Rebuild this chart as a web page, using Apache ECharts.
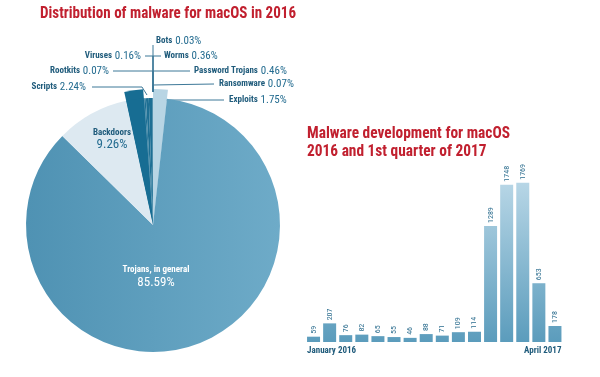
<!DOCTYPE html>
<html>
<head>
<meta charset="utf-8">
<script src="https://cdn.jsdelivr.net/npm/echarts@6/dist/echarts.min.js"></script>
<style>
  html, body { margin: 0; padding: 0; background: #fff; }
  #chart { width: 600px; height: 377px; }
</style>
</head>
<body>
<div id="chart"></div>
<script>
// pie: share of malware types, 2016 (clockwise from 12 o'clock)
const pieNames = ['Exploits', 'Trojans, in general', 'Backdoors', 'Scripts', 'Rootkits', 'Viruses', 'Bots', 'Worms', 'Password Trojans', 'Ransomware']
const pieValues = [1.75, 85.59, 9.26, 2.24, 0.07, 0.16, 0.03, 0.36, 0.46, 0.07]
const pieColors = ['#b8d5e4', '#5d9ebf', '#dde9f1', '#176d93', '#1d6f94', '#1d6f94', '#1d6f94', '#1d6f94', '#1d6f94', '#1d6f94']

// bars: new samples per month, Jan 2016 .. Apr 2017
const months = ['January 2016', 'February 2016', 'March 2016', 'April 2016', 'May 2016', 'June 2016',
  'July 2016', 'August 2016', 'September 2016', 'October 2016', 'November 2016', 'December 2016',
  'January 2017', 'February 2017', 'March 2017', 'April 2017']
const samples = [59, 207, 76, 82, 65, 55, 46, 88, 71, 109, 114, 1289, 1748, 1769, 653, 178]

const title1 = 'Distribution of malware for macOS in 2016'
const title2 = ['Malware development for macOS', '2016 and 1st quarter of 2017']

const FONT = "'Roboto Condensed', 'Noto Sans Condensed', 'Liberation Sans Narrow', 'DejaVu Sans Condensed', 'Roboto', sans-serif"
const RED = '#c1202f'
const NAVY = '#1f5b7b'

// squeeze a heading to the width it has in the print version
function squeeze(text, size, target) {
  const ctx = document.createElement('canvas').getContext('2d')
  ctx.font = 'bold ' + size + 'px ' + FONT
  return Math.min(1, target / ctx.measureText(text).width)
}

// where each pie label sits, and its leader line
const labelSpots = [
  { x: 229, y: 100, align: 'left', line: [[159, 109], [159, 100], [224, 100]] },
  { x: 156, y: 277, align: 'center' },
  { x: 112, y: 140, align: 'center' },
  { x: 86, y: 87, align: 'right', line: [[147, 95], [142, 87], [92, 87]] },
  { x: 109, y: 71, align: 'right', line: [[153, 92], [153, 71], [113, 71]] },
  { x: 141, y: 56, align: 'right', line: [[153, 92], [153, 56], [145, 56]] },
  { x: 156, y: 41, align: 'left', line: [[153, 92], [153, 45]] },
  { x: 164, y: 56, align: 'left', line: [[153, 92], [153, 56], [161, 56]] },
  { x: 194, y: 71, align: 'left', line: [[153, 92], [153, 71], [190, 71]] },
  { x: 219, y: 84, align: 'left', line: [[153, 92], [153, 85], [214, 84]] }
]

const chart = echarts.init(document.getElementById('chart'))

const pieData = pieNames.map((name, i) => {
  const item = { name: name, value: pieValues[i], itemStyle: { color: pieColors[i] } }
  if (i === 1) {
    item.itemStyle.color = new echarts.graphic.LinearGradient(0, 0, 1, 0, [
      { offset: 0, color: '#4f92b3' },
      { offset: 1, color: '#6eabc8' }
    ])
    item.label = { formatter: '{w|{b}}\n{big|{c}%}' }
    item.labelLine = { show: false }
  } else if (i === 2) {
    item.label = { formatter: '{n|{b}}\n{bigN|{c}%}' }
    item.labelLine = { show: false }
  }
  return item
})

// outer rim for the two slices that stick out
const rimData = pieNames.map((name, i) => ({
  name: name,
  value: pieValues[i],
  itemStyle: { color: (i === 0 || i === 3) ? pieColors[i] : 'rgba(0,0,0,0)' }
}))

const t1Scale = squeeze(title1, 16, 256)
const t2Scale = squeeze(title2[0], 16, 203)

chart.setOption({
  backgroundColor: '#fff',
  animation: false,
  textStyle: { fontFamily: FONT },
  graphic: [
    {
      type: 'text',
      x: 40,
      y: 14,
      scaleX: t1Scale,
      style: { text: title1, fill: RED, font: 'bold 16px ' + FONT, verticalAlign: 'middle' }
    },
    {
      type: 'text',
      x: 307,
      y: 143,
      scaleX: t2Scale,
      style: { text: title2.join('\n'), fill: RED, font: 'bold 16px ' + FONT, lineHeight: 18, verticalAlign: 'middle' }
    }
  ],
  grid: { left: 305.5, right: 37, top: 162, bottom: 35 },
  xAxis: {
    type: 'category',
    data: months,
    axisLine: { show: false },
    axisTick: { show: false },
    axisLabel: {
      interval: 0,
      margin: 4,
      color: NAVY,
      fontWeight: 'bold',
      fontSize: 9,
      fontFamily: FONT,
      alignMinLabel: 'left',
      alignMaxLabel: 'right',
      formatter: (v, i) => i === 0 ? '{first|' + v + '}' : (i === months.length - 1 ? '{last|' + v + '}' : ''),
      rich: {
        first: { padding: [0, 0, 0, -6.5], color: NAVY, fontWeight: 'bold', fontSize: 9, fontFamily: FONT },
        last: { padding: [0, -6.5, 0, 0], color: NAVY, fontWeight: 'bold', fontSize: 9, fontFamily: FONT }
      }
    }
  },
  yAxis: { type: 'value', min: 0, max: 2000, show: false },
  series: [
    {
      type: 'pie',
      silent: true,
      z: 1,
      center: [153, 225],
      radius: [0, 136],
      startAngle: 90,
      label: { show: false },
      labelLine: { show: false },
      data: rimData
    },
    {
      type: 'pie',
      z: 2,
      center: [153, 225],
      radius: [0, 127],
      startAngle: 90,
      avoidLabelOverlap: false,
      itemStyle: { borderWidth: 0 },
      label: {
        show: true,
        position: 'outside',
        formatter: '{n|{b}} {v|{c}%}',
        rich: {
          n: { fontFamily: FONT, fontWeight: 'bold', fontSize: 9, color: NAVY },
          v: { fontFamily: FONT, fontSize: 11, color: '#246c90' },
          w: { fontFamily: FONT, fontWeight: 'bold', fontSize: 9, color: '#fff', lineHeight: 12 },
          big: { fontFamily: FONT, fontSize: 13, color: '#fff', lineHeight: 15 },
          bigN: { fontFamily: FONT, fontSize: 13, color: '#246c90', lineHeight: 15 }
        }
      },
      labelLine: { show: true, lineStyle: { color: '#3d7898', width: 1 } },
      labelLayout: function (params) {
        const s = labelSpots[params.dataIndex]
        const out = { x: s.x, y: s.y, align: s.align, verticalAlign: 'middle' }
        if (s.line) out.labelLinePoints = s.line
        return out
      },
      data: pieData
    },
    {
      type: 'bar',
      data: samples,
      barWidth: 13,
      itemStyle: {
        color: new echarts.graphic.LinearGradient(0, 183, 0, 342, [
          { offset: 0, color: '#b7d6e6' },
          { offset: 1, color: '#5b9cbc' }
        ], true)
      },
      label: {
        show: true,
        position: 'top',
        rotate: 90,
        align: 'left',
        verticalAlign: 'middle',
        distance: 3,
        fontSize: 8,
        fontFamily: FONT,
        color: '#2d6e8f'
      }
    }
  ]
})
</script>
</body>
</html>
